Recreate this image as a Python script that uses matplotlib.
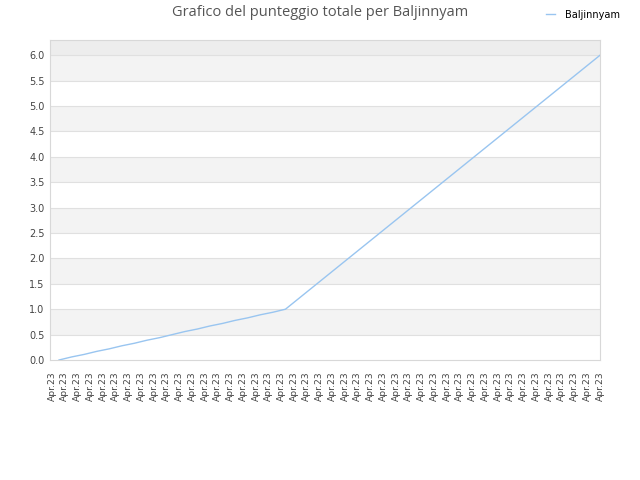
import matplotlib
matplotlib.use("Agg")
import matplotlib.pyplot as plt

series_name = "Baljinnyam"
title = "Grafico del punteggio totale per Baljinnyam"
x_labels = ["Apr.23"] * 44
scores = [0.0, 0.06, 0.11, 0.17, 0.22, 0.28, 0.33, 0.39, 0.44, 0.5,
          0.56, 0.61, 0.67, 0.72, 0.78, 0.83, 0.89, 0.94, 1.0,
          1.2, 1.4, 1.6, 1.8, 2.0, 2.2, 2.4, 2.6, 2.8, 3.0,
          3.2, 3.4, 3.6, 3.8, 4.0, 4.2, 4.4, 4.6, 4.8, 5.0,
          5.2, 5.4, 5.6, 5.8, 6.0]
y_ticks = [0.0, 0.5, 1.0, 1.5, 2.0, 2.5, 3.0, 3.5, 4.0, 4.5, 5.0, 5.5, 6.0]

plt.rcParams['font.family'] = ['DejaVu Sans']
fig = plt.figure(figsize=(6.4, 4.8), dpi=100)
ax = fig.add_axes([50/640, 0.25, 550/640, 320/480])

ymax = 6.3
n = len(scores)
ax.set_ylim(0, ymax)
ax.set_xlim(-0.715, n - 1)

# alternating bands
for i in range(len(y_ticks) - 1):
    if i % 2 == 1:
        ax.axhspan(y_ticks[i], y_ticks[i + 1], color="#f3f3f3", zorder=0, lw=0)
ax.axhspan(y_ticks[-1], ymax, color="#ededed", zorder=0, lw=0)
for t in y_ticks[1:]:
    ax.axhline(t, color="#e0e0e0", lw=0.8, zorder=1)

xs = list(range(n))
ax.plot(xs, scores, color="#99c5f0", lw=1.0, zorder=3, label=series_name)

ax.set_yticks(y_ticks)
ax.set_yticklabels([f"{t:.1f}" for t in y_ticks], fontsize=7, color="#444444")
ax.set_xticks([])
ax.tick_params(axis="both", length=0, pad=4)
for s in ax.spines.values():
    s.set_color("#d8d8d8")
    s.set_linewidth(0.8)

# category label axis (labels evenly spread as in the reference)
axl = ax.twiny()
axl.set_xlim(-0.16, n - 1)
axl.set_xticks(xs)
axl.set_xticklabels(x_labels, rotation=90, fontsize=6.6, color="#444444")
axl.xaxis.set_ticks_position("bottom")
axl.xaxis.set_label_position("bottom")
axl.tick_params(axis="x", length=0, pad=8.5)
for s in axl.spines.values():
    s.set_visible(False)

fig.text(0.5, 1 - 12/480, title, ha="center", va="center", fontsize=10.5,
         color="#555555", family=["Open Sans", "DejaVu Sans"])
leg = fig.legend(loc="center left", bbox_to_anchor=(541/640, 1 - 15/480), frameon=False,
                 prop={"family": "DejaVu Sans", "stretch": "condensed", "size": 7.8},
                 handlelength=0.8, handletextpad=0.9, borderpad=0)

fig.savefig("out.png", dpi=100)
